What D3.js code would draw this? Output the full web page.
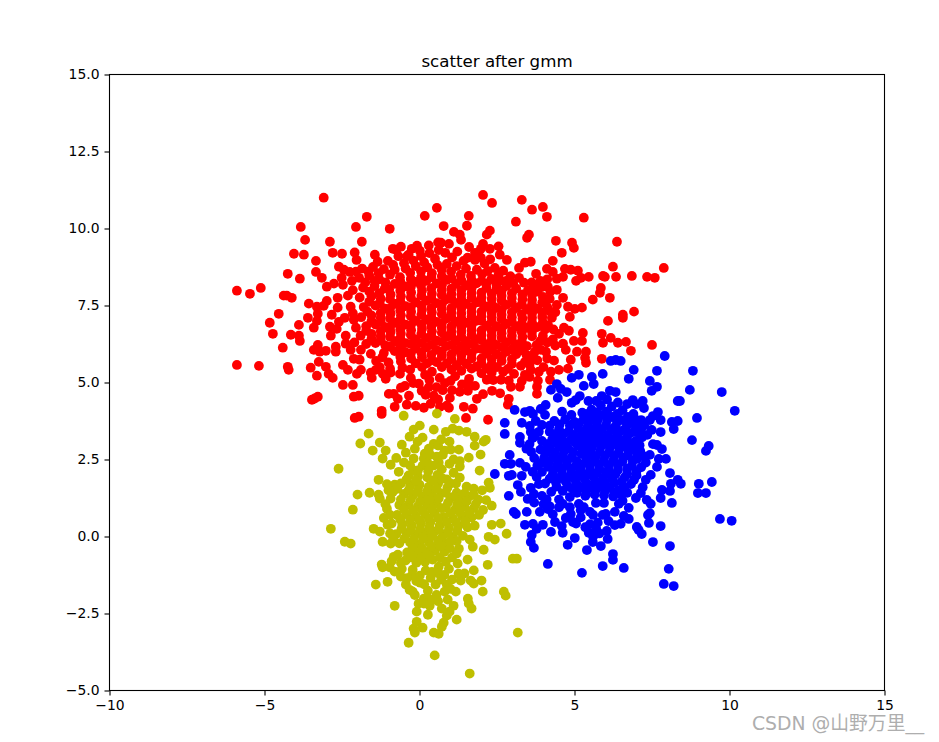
<!DOCTYPE html>
<html>
<head>
<meta charset="utf-8">
<script src="https://cdn.jsdelivr.net/npm/d3@7"></script>
<style>
body { margin: 0; background: #fff; }
svg { display: block; }
text { font-family: "DejaVu Sans", sans-serif; }
</style>
</head>
<body>
<div id="vis"></div>
<script>
const xTicks = [-10, -5, 0, 5, 10, 15];
const yTicks = [-5, -2.5, 0, 2.5, 5, 7.5, 10, 12.5, 15];

const redPoints = [
[-3.09,11],[-1.7,10.38],[-3.83,10.05],[-2.05,10.05],[.17,10.41],[.56,10.67],[-.96,9.99],[.78,10.08],[1.11,9.89],
[-3.69,9.63],[-2.89,9.57],[-1.86,9.57],[-4.05,9.18],[-3.73,9.15],[-2.8,9.21],[-2.5,9.18],[-2.09,9.22],[-2.03,8.98],[-3.34,8.95],[-1.44,9.15],[-1.35,8.92],
[-.86,9.34],[-.6,9.41],[-.75,9.31],[-.25,9.34],[-.08,9.44],[.01,9.28],[.69,9.54],[.95,9.5],[-4.25,8.53],[-3.86,8.37],[-3.34,8.59],[-3.15,8.4],[-2.6,8.76],[-2.44,8.66],[-2.25,8.59],
[-2.51,8.4],[-2.18,8.3],[-2.76,8.21],[-2.99,8.11],[-2.47,8.17],[-5.89,7.98],[-5.47,7.88],[-5.12,8.07],[-4.38,7.82],[-4.12,7.75],[-4.28,7.82],[-2.64,7.75],[-2.31,7.82],[-3.57,7.56],
[-2.99,7.65],[-3.31,7.46],[-3.09,7.49],[-2.64,7.43],[-2.22,7.46],[-4.54,7.23],[-4.83,6.94],[-4.73,6.58],[-3.89,6.87],[-3.6,7.1],[-3.28,7.23],[-2.83,7.2],[-3.31,7],[-3.41,6.78],
[-2.89,6.81],[-2.67,6.74],[-2.6,6.97],[-2.41,7.1],[-2.12,7.04],[-4.15,6.55],[-3.89,6.52],[-3.86,6.35],[-4.41,6.13],[-2.86,6.52],[-2.38,6.52],[-2.38,6.26],[-3.28,6.22],[-3.41,6.06],
[-3.22,6],[-3.02,6.03],[-2.7,6.16],[-2.7,6],[-2.22,6.06],[-1.89,6.06],[-3.25,5.67],[-2.12,5.77],[-1.93,5.74],[-1.57,5.93],[-1.15,5.96],[-5.89,5.57],[-5.18,5.54],[-4.25,5.51],[-4.22,5.41],
[-3.51,5.48],[-3.31,5.22],[-3.02,5.51],[-2.93,5.28],[-2.8,5.15],[-2.47,5.57],[-2.31,5.41],[-1.89,5.41],[-2.02,5.28],[-2.47,4.92],[-2.15,4.92],[-1.57,5.32],[-1.54,5.15],[-1.41,5.41],
[-1.18,5.28],[-1.09,5.12],[-.93,5.32],[-.63,5.28],[-.28,5.15],[-3.47,4.44],[-3.28,4.54],[-3.38,4.48],[-2.12,4.54],[-1.96,4.57],[-2.09,3.85],[-1.96,3.89],[-1.22,4.08],[-1.22,3.98],
[-.99,4.63],[-.83,4.63],[-.6,4.83],[-.47,4.89],[-.34,4.57],[-.7,4.47],[-.8,4.21],[-.41,4.28],[-.12,4.24],[.14,4.18],[.36,4.31],[.46,4.57],[.66,4.21],[.95,4.18],[.07,4.73],[-.02,4.96],
[2.05,11.09],[2.34,10.83],[3.3,10.93],[3.63,10.61],[3.98,10.7],[4.11,10.38],[5.3,10.35],[3.11,10.22],[1.59,10.41],[1.53,10.09],[1.3,9.8],[1.34,9.63],[2.27,9.93],[2.17,9.8],[3.53,9.8],[3.47,9.7],
[4.4,9.6],[4.92,9.54],[4.98,9.37],[6.37,9.57],[4.59,9.21],[4.3,8.95],[2.27,9.34],[1.98,9.34],[1.79,9.21],[2.59,9.15],[1.79,8.98],[2.82,8.98],[3.59,8.92],[3.4,8.89],[3.21,8.72],[6.24,8.76],[7.88,8.72],
[3.76,8.53],[4.11,8.69],[4.3,8.59],[4.69,8.69],[4.88,8.66],[5.11,8.63],[4.63,8.43],[4.43,8.37],[5.46,8.43],[5.21,8.4],[5.05,8.3],[5.92,8.46],[5.98,8.43],[6.34,8.43],[6.85,8.46],[7.34,8.43],[7.59,8.4],
[3.21,8.4],[3.37,8.24],[5.85,8.07],[5.82,7.91],[4.43,8.01],[4.14,8.11],[4.63,7.75],[6.14,7.75],[5.59,7.69],[4.43,7.52],[4.79,7.46],[5.01,7.39],[5.24,7.43],[6.92,7.3],[6.56,7.2],[6.56,7.1],[4.85,7.13],
[6.08,7],[4.27,7.1],[4.66,6.78],[4.82,6.68],[4.5,6.58],[5.27,6.61],[5.88,6.58],[6.17,6.45],[5.24,6.35],[4.98,6.35],[6.4,6.29],[6.66,6.32],[5.92,6.29],[7.5,6.22],[6.82,6.03],[4.63,6.26],[4.72,6.06],[5.08,6],
[5.37,6],[4.88,5.74],[5.34,5.8],[5.37,5.64],[5.88,5.77],[4.5,5.41],[4.79,5.45],[4.34,5.71],[4.08,6],[3.92,6.06],[3.4,5.67],[3.27,5.54],[3.59,5.41],[3.85,5.35],[3.82,5.06],[3.79,4.86],[3.79,4.63],[4.21,5.09],
[4.24,5.35],[3.24,4.86],[2.95,4.86],[2.88,5.06],[2.63,5.09],[2.34,4.73],[2.17,5.09],[1.79,4.89],[2.88,4.47],[2.85,4.28],[1.56,4.73],[1.85,4.47],[1.72,4.15],[1.43,4.21],[.98,4.5],[.88,4.25],[1.5,3.85],[2.21,3.79],[1.37,4.94],
[-1.85,8.7],[-1.5,8.75],[-1.15,8.68],[-.85,8.82],[-.5,8.87],[-.2,8.96],[.15,8.9],[.5,9.02],[.83,9.21],[1.05,9.06],[1.42,8.95],[2.1,8.86],[2.43,8.72],[2.7,8.63],
[-1.95,8.4],[-1.62,8.47],[-1.3,8.35],[-.95,8.5],[-.63,8.42],[-.3,8.56],[.05,8.61],[.4,8.55],[.72,8.66],[1.02,8.6],[1.33,8.5],[1.66,8.46],[2.02,8.52],[2.32,8.36],[2.62,8.31],[2.93,8.45],
[-1.82,8.08],[-1.45,8.13],[-1.12,8.05],[-.8,8.2],[-.44,8.12],[-.12,8.27],[.22,8.3],[.55,8.22],[.88,8.33],[1.18,8.2],[1.5,8.15],[1.84,8.22],[2.16,8.07],[2.48,8.02],[2.8,8.13],[3.12,8.05],[3.5,8],[3.8,7.95],
[-1.93,7.76],[-1.55,7.8],[-1.25,7.72],[-.93,7.86],[-.6,7.8],[-.27,7.92],[.08,7.98],[.4,7.88],[.72,8],[1.03,7.88],[1.35,7.85],[1.68,7.9],[2,7.76],[2.33,7.72],[2.65,7.82],[2.98,7.74],[3.32,7.7],[3.63,7.68],[3.98,7.78],[4.2,7.72],
[-1.8,7.45],[-1.42,7.5],[-1.1,7.4],[-.78,7.55],[-.45,7.48],[-.12,7.6],[.22,7.66],[.55,7.58],[.87,7.7],[1.18,7.58],[1.5,7.55],[1.84,7.6],[2.16,7.46],[2.48,7.42],[2.8,7.52],[3.12,7.42],[3.47,7.38],[3.8,7.4],[4.12,7.45],
[-1.88,7.12],[-1.55,7.18],[-1.25,7.1],[-.93,7.24],[-.6,7.18],[-.27,7.3],[.08,7.35],[.4,7.27],[.72,7.38],[1.03,7.27],[1.35,7.24],[1.68,7.3],[2,7.15],[2.33,7.12],[2.65,7.2],[2.98,7.12],[3.32,7.08],[3.63,7.1],[3.96,7.13],[4.15,6.85],
[-1.72,6.83],[-1.42,6.88],[-1.1,6.8],[-.78,6.94],[-.45,6.88],[-.12,7],[.22,7.04],[.55,6.97],[.87,7.08],[1.18,6.97],[1.5,6.94],[1.84,7],[2.16,6.84],[2.48,6.82],[2.8,6.9],[3.12,6.82],[3.47,6.78],[3.8,6.8],
[-1.9,6.52],[-1.55,6.58],[-1.25,6.5],[-.93,6.64],[-.6,6.58],[-.27,6.7],[.08,6.74],[.4,6.66],[.72,6.78],[1.03,6.66],[1.35,6.64],[1.68,6.7],[2,6.54],[2.33,6.52],[2.65,6.6],[2.98,6.52],[3.32,6.48],[3.63,6.5],[3.98,6.52],
[-1.72,6.25],[-1.42,6.28],[-1.1,6.2],[-.78,6.34],[-.45,6.28],[-.12,6.4],[.22,6.44],[.55,6.36],[.87,6.48],[1.18,6.36],[1.5,6.34],[1.84,6.4],[2.16,6.24],[2.48,6.22],[2.8,6.3],[3.12,6.22],[3.47,6.18],[3.78,6.22],
[-.8,6.02],[-.45,5.98],[-.12,6.1],[.22,6.14],[.55,6.06],[.87,6.18],[1.18,6.06],[1.5,6.04],[1.84,6.1],[2.16,5.94],[2.48,5.92],[2.8,6],[3.12,5.92],[3.45,5.9],
[-1.4,5.7],[-1,5.65],[-.6,5.68],[-.27,5.78],[.08,5.82],[.4,5.72],[.72,5.86],[1.03,5.76],[1.35,5.72],[1.68,5.78],[2,5.62],[2.33,5.6],[2.65,5.7],[2.98,5.6],
[-.3,5.42],[.08,5.5],[.4,5.35],[.72,5.5],[1.03,5.42],[1.35,5.38],[1.68,5.45],[2,5.3],[2.33,5.32],[2.7,5.35],[3.05,5.28],[3.4,5.25],
[.32,5.08],[.65,5.15],[1,5.05],[1.3,4.7],[.55,4.85],[.2,4.6],[.75,4.75],
// gaps between the rows above, the middle of this cloud is almost solid
[-1.02,8.95],[-.68,9.1],[-.35,9.15],[.32,9.2],[.62,9.3],[1.22,9.25],[1.55,9.05],[1.98,9.05],[2.28,9],
[-1.65,8.6],[-1.32,8.55],[-.8,8.66],[-.45,8.7],[-.12,8.78],[.25,8.74],[.58,8.82],[.88,8.85],[1.2,8.78],[1.5,8.7],[1.85,8.66],[2.2,8.62],[2.55,8.5],
[-1.75,8.25],[-1.45,8.3],[-1.1,8.25],[-.62,8.28],[-.28,8.36],[.05,8.42],[.38,8.42],[.72,8.45],[1.04,8.38],[1.35,8.32],[1.68,8.32],[2,8.3],[2.16,8.22],[2.48,8.18],[2.8,8.3],[3.02,8.22],
[-1.62,7.95],[-1.3,7.9],[-.98,8.02],[-.62,7.98],[-.28,8.1],[.05,8.15],[.38,8.06],[.72,8.16],[1.03,8.05],[1.35,8],[1.68,8.06],[2,7.92],[2.33,7.88],[2.65,7.98],[2.98,7.9],[3.32,7.86],[3.63,7.84],
[-1.62,7.62],[-1.28,7.56],[-.95,7.7],[-.62,7.64],[-.28,7.76],[.06,7.82],[.38,7.73],[.72,7.84],[1.03,7.72],[1.35,7.7],[1.68,7.75],[2,7.6],[2.33,7.56],[2.65,7.66],[2.98,7.58],[3.3,7.54],[3.63,7.53],[3.96,7.6],
[-1.68,7.3],[-1.25,7.26],[-.95,7.4],[-.62,7.34],[-.28,7.45],[.06,7.5],[.38,7.42],[.72,7.54],[1.03,7.42],[1.35,7.4],[1.68,7.44],[2,7.3],[2.33,7.26],[2.65,7.36],[2.98,7.28],[3.3,7.22],[3.63,7.25],[3.96,7.28],
[-1.55,7],[-1.25,6.96],[-.95,7.08],[-.62,7.03],[-.28,7.15],[.06,7.2],[.38,7.12],[.72,7.22],[1.03,7.12],[1.35,7.08],[1.68,7.15],[2,7],[2.33,6.97],[2.65,7.05],[2.98,6.97],[3.3,6.92],[3.63,6.95],[3.98,6.96],
[-1.72,6.68],[-1.25,6.66],[-.95,6.78],[-.62,6.73],[-.28,6.85],[.06,6.89],[.38,6.82],[.72,6.92],[1.03,6.82],[1.35,6.78],[1.68,6.85],[2,6.69],[2.33,6.67],[2.65,6.75],[2.98,6.67],[3.3,6.63],[3.63,6.65],
[-1.55,6.42],[-1.25,6.36],[-.95,6.48],[-.62,6.43],[-.28,6.55],[.06,6.58],[.38,6.52],[.72,6.62],[1.03,6.52],[1.35,6.48],[1.68,6.55],[2,6.39],[2.33,6.37],[2.65,6.45],[2.98,6.37],[3.3,6.33],
[-.95,6.16],[-.62,6.14],[-.28,6.25],[.06,6.28],[.38,6.22],[.72,6.32],[1.03,6.22],[1.35,6.18],[1.68,6.25],[2,6.09],[2.33,6.07],[2.65,6.15],[2.98,6.07],[3.28,6.04],
[-1.2,5.82],[-.62,5.84],[-.28,5.94],[.06,5.97],[.38,5.9],[.72,6],[1.03,5.92],[1.35,5.88],[1.68,5.94],[2,5.78],[2.33,5.76],[2.65,5.85],[2.98,5.76],
[-.12,5.62],[.24,5.62],[.56,5.66],[.88,5.62],[1.2,5.56],[1.52,5.6],[1.84,5.52],[2.17,5.46],[2.5,5.5],[2.85,5.44],
// edges of the cloud
[3.9,8.3],[3.62,8.25],[4.12,8.35],[3.95,8.1],[4.22,7.95],[3.7,8.1],[4.2,7.32],[4.38,7.28],[4.32,6.72],[4.05,6.72],[4.3,6.4],[4.12,6.3],[4.38,6.2],[3.9,6.35],[3.72,6],[4.12,5.78],[3.8,5.72],[3.62,5.8],[3.55,5.58],[4,5.5],[3.3,5.05],[3.55,5.18],
[.3,9.45],[.05,9.1],[1.6,9.4],[2.55,9.42],[2.05,9.5],[.6,9.55],[-.4,9.1],
[-.2,4.98],[.18,5.25],[.82,4.98],[1.15,5.2],[1.6,5.12],[2.38,5.08],[.3,4.85],[1.05,4.75],[1.55,4.98],[2.05,4.62],[.6,4.45],[2.6,4.65],
[-2.15,8],[-2.15,7.25],[-2.05,6.78],[-2.1,6.3],[-2.05,8.6],[-.95,5.45],[-.55,5.48],[-1.28,5.5]
];

const bluePoints = [
[7.91,5.86],[8.82,5.38],[6.91,5.41],[7.66,5.38],[5.91,5.28],[6.75,5.12],[7.43,5.05],[7.66,4.86],[7.49,4.73],[8.72,4.76],[9.75,4.69],[6.17,5.7],[6.33,5.73],[6.49,5.7],[5.14,5.25],[4.91,5.15],[5.56,5.18],[5.62,4.95],[5.3,4.89],
[4.43,4.95],[4.24,4.76],[4.56,4.79],[4.75,4.69],[4.46,4.5],[5.17,4.56],[5.04,4.43],[4.91,4.34],[6.14,4.73],[6.33,4.69],[5.88,4.56],[6.88,4.43],[7.2,4.4],[6.98,4.3],[7.24,4.17],[8.33,4.4],[8.4,4.4],[10.17,4.08],
[3.07,4.11],[3.4,4.04],[3.56,4.08],[3.66,3.98],[3.91,4.14],[4.07,4.27],[2.75,3.69],[2.75,3.33],[3.3,3.69],[3.56,3.59],[3.95,3.62],[7.69,4.04],[7.53,3.91],[7.78,3.78],[7.43,3.78],[8.14,3.72],[8.33,3.75],[8.2,3.49],[8.95,3.85],
[7.78,3.39],[7.49,3.46],[8.79,3.13],[9.33,2.94],[9.24,2.78],[3.24,3.23],[3.24,3.04],[3.59,3.39],[3.72,3.26],[7.53,3],[7.66,2.97],[7.82,2.84],[7.43,2.65],[7.72,2.52],[7.95,2.52],[7.66,2.26],[2.91,2.65],[2.75,2.36],[2.95,2.36],
[3.24,2.39],[3.43,2.26],[3.3,1.97],[2.43,2.03],[2.88,1.97],[2.98,2],[3.78,1.93],[3.17,1.67],[3.27,1.45],[2.88,1.32],[3.59,1.58],[3.49,1.22],[3.69,1.38],[3.95,1.32],[8.08,2.06],[7.46,2],[7.3,1.84],[8.33,1.84],[8.11,1.71],[8.43,1.71],
[9.01,1.71],[9.43,1.77],[8.08,1.48],[7.82,1.51],[7.78,1.25],[8.98,1.41],[9.24,1.41],[8.14,1.09],[7.14,1.41],[6.98,1.25],[7.46,1.06],[7.33,1.19],[7.37,.7],[7.43,.76],[7.4,.44],[7.78,.34],[9.69,.57],[10.07,.51],[6.59,.67],[6.75,.57],
[6.49,.41],[6.3,.37],[7.01,.31],[7.07,.21],[7.17,.08],[7.53,-.18],[8.08,-.31],[3.04,.8],[3.11,.73],[3.46,.8],[3.88,.8],[4.14,.89],[3.4,.38],[3.66,.41],[3.98,.38],[3.78,.25],[3.62,.05],[3.59,-.18],[3.69,-.37],[4.24,.15],[4.37,.47],
[4.59,.34],[4.62,.12],[4.78,-.27],[5.01,-.05],[5.4,-.44],[5.85,-.31],[5.59,-.18],[6.07,-.08],[6.04,.18],[5.46,.12],[6.24,-.57],[6.24,-.76],[5.91,-.96],[6.59,-1.02],[5.24,-1.18],[4.14,-.89],[8.04,-1.05],[7.88,-1.54],[8.2,-1.61],
[6.01,.73],[5.91,.7],[5.75,.45],[4.95,.47],[4.72,.6],[4.62,1.06],[4.88,.73],[5.14,1.06],[5.95,1.09],[5.69,1.09],[6.43,1.06],[6.75,.93],
[4.6,4.05],[5.25,4.02],[5.55,4.12],[5.85,4.25],[6.2,4.22],[6.55,4.1],[6.9,3.98],[7.15,3.78],
[4.05,3.95],[4.35,3.75],[4.7,3.8],[5,3.72],[5.3,3.82],[5.6,3.85],[5.9,3.95],[6.22,3.88],[6.55,3.78],[6.85,3.68],[7.15,3.5],
[4.2,3.4],[4.5,3.48],[4.82,3.42],[5.12,3.52],[5.42,3.55],[5.72,3.62],[6.02,3.62],[6.32,3.58],[6.62,3.48],[6.92,3.4],[7.18,3.22],
[3.95,3.1],[4.28,3.15],[4.58,3.2],[4.88,3.14],[5.18,3.24],[5.48,3.28],[5.78,3.34],[6.08,3.3],[6.38,3.28],[6.68,3.2],[6.98,3.1],
[3.9,2.82],[4.2,2.86],[4.5,2.92],[4.8,2.86],[5.1,2.96],[5.4,3],[5.7,3.05],[6,3.02],[6.3,3],[6.6,2.92],[6.9,2.82],[7.12,2.78],
[4.02,2.55],[4.32,2.58],[4.62,2.62],[4.92,2.58],[5.22,2.68],[5.52,2.72],[5.82,2.76],[6.12,2.74],[6.42,2.72],[6.72,2.64],[7.02,2.52],
[4.15,2.26],[4.45,2.32],[4.75,2.34],[5.05,2.3],[5.35,2.4],[5.65,2.44],[5.95,2.48],[6.25,2.46],[6.55,2.44],[6.85,2.3],[7.15,2.25],
[4.3,2.02],[4.6,2.04],[4.9,2.06],[5.2,2.12],[5.5,2.16],[5.8,2.2],[6.1,2.18],[6.4,2.16],[6.7,2.04],[7,1.98],
[4.05,1.72],[4.4,1.76],[4.72,1.78],[5.02,1.84],[5.32,1.88],[5.62,1.92],[5.92,1.9],[6.22,1.88],[6.52,1.78],[6.82,1.7],
[4.25,1.45],[4.62,1.48],[4.92,1.56],[5.22,1.6],[5.52,1.64],[5.82,1.62],[6.12,1.6],[6.42,1.5],[6.7,1.42],
[4.5,1.2],[4.85,1.28],[5.35,1.32],[5.65,1.36],[5.95,1.34],[6.25,1.3],[6.55,1.16],
[5.5,.8],[5.2,.62],[5.5,.4],[5.8,.1],[5.05,.42],[4.3,.72],
// second pass through the dense middle
[4.9,3.95],[5.42,3.98],[5.72,4.02],[6.05,4.05],[6.38,3.98],[6.72,3.88],[7,3.78],
[4.2,3.6],[4.52,3.64],[4.85,3.6],[5.15,3.68],[5.45,3.72],[5.75,3.78],[6.05,3.78],[6.38,3.72],[6.7,3.62],[7,3.55],
[4.35,3.3],[4.66,3.34],[4.98,3.3],[5.28,3.4],[5.58,3.44],[5.88,3.48],[6.18,3.46],[6.48,3.42],[6.78,3.34],[7.08,3.36],
[4.12,3],[4.42,3.04],[4.72,3.04],[5.02,3.06],[5.3,3.12],[5.6,3.16],[5.9,3.2],[6.18,3.16],[6.5,3.12],[6.8,3.04],[7.1,2.96],
[4.06,2.7],[4.36,2.74],[4.66,2.76],[4.96,2.74],[5.26,2.84],[5.55,2.88],[5.85,2.92],[6.14,2.88],[6.45,2.86],[6.74,2.78],[7.02,2.68],
[4.18,2.42],[4.48,2.46],[4.78,2.48],[5.08,2.44],[5.38,2.54],[5.68,2.6],[5.98,2.62],[6.28,2.6],[6.58,2.56],[6.88,2.46],
[4.32,2.16],[4.6,2.18],[4.9,2.2],[5.2,2.26],[5.5,2.3],[5.8,2.34],[6.1,2.32],[6.4,2.3],[6.7,2.2],[7,2.12],
[4.2,1.88],[4.52,1.9],[4.82,1.92],[5.12,1.98],[5.42,2.02],[5.72,2.06],[6.02,2.04],[6.32,2.02],[6.62,1.92],[6.92,1.84],
[4.42,1.62],[4.78,1.64],[5.08,1.7],[5.38,1.74],[5.68,1.78],[5.98,1.76],[6.28,1.74],[6.58,1.62],
[5.08,1.42],[5.38,1.48],[5.68,1.5],[5.98,1.48],[6.28,1.44],[6.5,1.36],
// edges of the cloud
[4.5,.95],[4.85,.95],[5.3,.95],[5.6,.7],[5.2,.85],[5.35,.3],[5.7,.25],[5.6,0],[6.3,.8],[6.1,.5],
[5.45,4.4],[5.7,4.4],[6.05,4.45],[6.4,4.35],[6.7,4.3],
[7.25,2.6],[7.3,2.4],[7.2,1.6],[7.35,3.3],[7.25,3.6],
[3.55,3],[3.6,2.75],[3.7,2.55],[3.8,2.3],[3.65,2.1],[3.95,2.1],[3.85,1.7],[3.7,1.1],[4,1.05],[3.75,3.75],[3.65,3.2],[3.85,3.4],[4.1,1.2],[4.2,.98],[3.45,2.85],[3.95,2.4]
];

const yellowPoints = [
[-.51,3.92],[.56,3.99],[1.14,3.82],[-1.64,3.34],[.01,3.6],[-.19,3.47],[.46,3.47],[1.07,3.5],[.85,3.4],[1.27,3.44],[1.52,3.4],[1.78,3.24],[2.14,3.14],[2.07,3.08],[1.78,2.95],[1.97,2.66],[-1.91,3.02],[-1.28,3.05],[-1.51,2.79],
[-1.09,2.79],[-1.19,2.53],[-.57,2.98],[-.32,3.24],[.1,3.21],[-.06,3.08],[.46,3.01],[-.44,2.72],[.17,2.69],[.14,2.53],[.97,3.08],[1.01,2.82],[.81,2.79],[1.27,2.82],[.56,2.59],[1.59,2.56],[-2.61,2.2],[-.93,2.33],[-.67,2.1],[-.19,2.53],
[.1,2.3],[.62,2.4],[.46,2.3],[.97,2.36],[1.3,2.27],[1.94,2.14],[-1.32,1.84],[1.1,2.07],[1.3,1.91],[2.23,1.75],[2.27,1.58],[1.52,1.62],[-1.61,1.42],[-2,1.36],[-1.32,1.36],[-1.28,1.23],[-.93,1.23],[-.8,1.68],[-.86,1.45],[-2.15,.87],
[2.33,1],[-2.86,.25],[-1.48,.25],[-1.28,.16],[-1.03,.38],[-2.41,-.17],[-2.22,-.23],[-1.19,-.17],[-.93,-.23],[2.33,.38],[2.62,.42],[2.81,.09],[2.23,-.01],[2.43,-.1],[1.78,.35],[2.07,-.43],[1.72,-.33],[1.27,-.4],[3.01,-.72],[3.14,-.72],
[2.2,-.92],[-.83,-.66],[-.7,-.59],[-1.22,-.91],[-1.19,-1],[-.96,-1],[-.8,-1.14],[-.57,-1.05],[-1.41,-1.56],[-1.03,-1.47],[-.44,-1.56],[-.22,-1.79],[-.32,-1.73],[-.22,-1.08],[-.25,-1.27],[.01,-1.27],[.36,-1.34],[.62,-.98],[.52,-1.56],
[.27,-1.76],[.88,-1.56],[.81,-1.79],[1.17,-1.79],[1.23,-.88],[1.26,-1.21],[1.33,-1.43],[1.65,-1.43],[2,-1.43],[1.75,-1.53],[2.04,-1.79],[2.72,-1.79],[2.78,-1.92],[1.56,-2.02],[1.59,-2.18],[1.68,-2.34],[-.8,-2.25],[-.03,-2.18],[.33,-2.25],
[-.09,-2.44],[.27,-2.54],[.91,-2.05],[1.1,-2.25],[.72,-2.34],[.97,-2.44],[.88,-2.57],[1.2,-2.7],[.78,-2.8],[.72,-2.93],[-.09,-2.77],[.1,-2.96],[-.19,-2.99],[-.15,-3.12],[.46,-3.12],[.62,-3.16],[3.17,-3.12],[-.35,-3.45],[.49,-3.86],[1.62,-4.45],
[.14,-2.02],[.27,-2.02],[.14,-2.18],
[-.35,1.98],[-.05,1.95],[.25,1.92],[.58,2],[.88,1.85],[1.18,1.72],
[-.6,1.72],[-.3,1.65],[0,1.68],[.3,1.62],[.6,1.72],[.9,1.58],[1.2,1.42],[1.75,1.55],[2.02,1.5],
[-.5,1.38],[-.2,1.35],[.1,1.3],[.4,1.34],[.7,1.4],[1,1.25],[1.3,1.18],[1.6,1.3],[1.9,1.2],[2.15,1.18],
[-.65,1.02],[-.35,1.04],[-.05,.98],[.25,1.02],[.55,1.08],[.85,.95],[1.15,.88],[1.45,.96],[1.75,.92],[2.05,.86],
[-.72,.7],[-.42,.72],[-.12,.66],[.18,.72],[.48,.76],[.78,.64],[1.08,.58],[1.38,.66],[1.68,.62],
[-.9,.42],[-.55,.4],[-.25,.36],[.05,.42],[.35,.46],[.65,.36],[.95,.28],[1.25,.34],[1.55,.3],
[-.75,.08],[-.42,.1],[-.12,.06],[.18,.12],[.48,.16],[.78,.08],[1.08,-.02],[1.4,.02],[1.62,-.1],
[-.65,-.22],[-.3,-.2],[0,-.25],[.3,-.18],[.6,-.14],[.9,-.22],[1.2,-.15],
[-.4,-.52],[-.1,-.55],[.2,-.5],[.5,-.45],[.8,-.5],[1.05,-.68],
[-.45,-.78],[-.1,-.85],[.18,-.82],[.42,-.75],[.85,-.82],[.95,-1.05],[.8,-1.25],[1.05,-1.4],
// second pass through the dense middle
[-.2,2.15],[.28,2.12],[.72,2.18],[-.42,1.85],[-.12,1.8],[.45,1.82],[.75,1.88],[1,1.72],
[-.72,1.55],[-.35,1.5],[-.05,1.5],[.25,1.48],[.55,1.55],[.85,1.42],[1.12,1.3],[1.45,1.4],[1.75,1.35],
[-.6,1.2],[-.28,1.2],[.02,1.14],[.32,1.18],[.62,1.24],[.92,1.1],[1.22,1.04],[1.52,1.14],[1.82,1.06],
[-.5,.88],[-.2,.85],[.1,.84],[.4,.9],[.7,.92],[1,.76],[1.3,.78],[1.6,.78],[1.92,.7],
[-.62,.55],[-.3,.54],[0,.52],[.3,.58],[.6,.6],[.88,.46],[1.18,.46],[1.48,.48],
[-.58,.25],[-.28,.22],[.02,.24],[.32,.3],[.62,.24],[.92,.12],[1.22,.18],
[-.48,-.06],[-.18,-.08],[.12,-.04],[.42,.02],[.72,-.04],[1,-.14],
[-.22,-.36],[.08,-.38],[.38,-.32],[.68,-.3],[.98,-.38],[1.2,-.55],
[-.28,-.68],[.05,-.68],[.32,-.62],[.65,-.68],[.62,-1.2],[.2,-1.1],[.02,-1.5],[-.1,-1.45],
// edges of the cloud
[-.15,2.85],[.3,2.85],[.6,2.95],[-.3,2.3],[-.5,2.4],[-.05,2.15],[.25,2.4],[.75,2.65],[1.1,2.5],[1.3,2.45],[.35,2.65],[-.75,2.55],[.7,3.15],
[-.6,-1.3],[-.4,-1.35],[.15,-1.55],[.4,-1.15],[.7,-1.4],[1,-1.7],[1.45,-1.2],[1.55,-.75],[1.75,-1.1],[-.6,-.85],[-.9,-.8],[-.15,-1.9],[.55,-1.9],[.6,-2.1],[.4,-2.05],
[-1.05,.9],[-.95,.7],[-1.1,1.05],[-1.15,.6],[-.95,.1],[-.85,-.05],[-1,1.5],[-1.05,1.7]
];

const fig = { width: 939, height: 742 };
const margin = { top: 74.5, right: 54.5, bottom: 51.5, left: 109.5 };
const width = fig.width - margin.left - margin.right;
const height = fig.height - margin.top - margin.bottom;

const svg = d3.select("#vis")
    .append("svg")
    .attr("width", fig.width)
    .attr("height", fig.height);

const g = svg.append("g")
    .attr("transform", `translate(${margin.left},${margin.top})`);

const xScale = d3.scaleLinear().domain([-10, 15]).range([0, width]);
const yScale = d3.scaleLinear().domain([-5, 15]).range([height, 0]);

// same draw order as the picture: yellow ends up on top
[[redPoints, "#ff0000"], [bluePoints, "#0000ff"], [yellowPoints, "#bfbf00"]].forEach(([points, color]) => {
    g.append("g")
        .selectAll("circle")
        .data(points)
        .enter()
        .append("circle")
        .attr("cx", d => xScale(d[0]))
        .attr("cy", d => yScale(d[1]))
        .attr("r", 4.9)
        .style("fill", color);
});

const xAxis = d3.axisBottom(xScale).tickValues(xTicks).tickSize(5).tickPadding(5).tickFormat(d3.format("d"));
const yAxis = d3.axisLeft(yScale).tickValues(yTicks).tickSize(5).tickPadding(5).tickFormat(d3.format(".1f"));

g.append("g").attr("transform", `translate(0,${height})`).call(xAxis);
g.append("g").call(yAxis);

g.selectAll(".domain").remove();
g.selectAll(".tick line").attr("stroke", "#000").attr("stroke-width", 1.1);
g.selectAll(".tick text").attr("fill", "#000").style("font-size", "13.9px").style("font-family", '"DejaVu Sans"');

g.append("rect")
    .attr("width", width)
    .attr("height", height)
    .attr("fill", "none")
    .attr("stroke", "#000")
    .attr("stroke-width", 1.1);

g.append("text")
    .attr("x", width / 2)
    .attr("y", -7.5)
    .attr("text-anchor", "middle")
    .style("font-size", "16.67px")
    .text("scatter after gmm");

svg.append("text")
    .attr("x", 752)
    .attr("y", 730)
    .style("font-family", '"DejaVu Sans", "Noto Sans CJK SC"')
    .style("font-size", "18.8px")
    .style("fill", "#8c8c8c")
    .style("opacity", 0.7)
    .text("CSDN @山野万里__");
</script>
</body>
</html>
